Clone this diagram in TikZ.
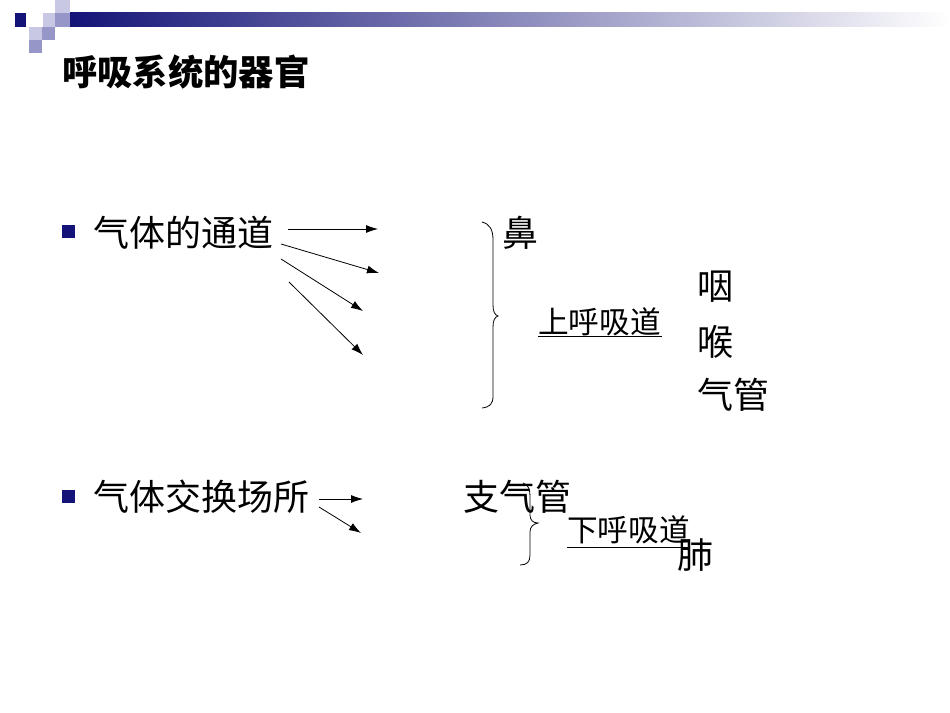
\documentclass[tikz,border=0pt]{standalone}
\usepackage{fontspec}
\usetikzlibrary{arrows.meta}
\newfontfamily\cjk{Noto Sans CJK SC}
\definecolor{navy}{RGB}{20,20,120}
\definecolor{lav}{RGB}{200,200,228}
\definecolor{mid}{RGB}{150,150,200}
\begin{document}
\begin{tikzpicture}[x=0.75pt,y=-0.75pt,
  txt/.style={anchor=west,inner sep=0pt,font=\cjk\fontsize{27}{29}\selectfont},
  small/.style={anchor=west,inner sep=0pt,font=\cjk\fontsize{23}{25}\selectfont},
  arr/.style={-{Latex[length=9pt,width=6pt]},line width=0.6pt},
  brace/.style={line width=0.6pt}]
\useasboundingbox (0,0) rectangle (950,713);
\fill[white] (0,0) rectangle (950,713);
% header
\shade[left color=navy,right color=white] (70,13) rectangle (950,27);
\fill[lav] (55,0) rectangle (70,13);
\fill[navy] (15,13) rectangle (26,27);
\fill[lav] (43,13) rectangle (55,27);
\fill[mid] (55,13) rectangle (70,27);
\fill[lav] (29,27) rectangle (42,40);
\fill[mid] (42,27) rectangle (55,40);
\fill[mid] (29,40) rectangle (42,53);
\node[anchor=west,inner sep=0pt,font=\cjk\bfseries\fontsize{26.5}{28}\selectfont] (title) at (62,72) {呼吸系统的器官};
% bullets
\fill[navy] (62,225) rectangle (75,238);
\fill[navy] (62,490) rectangle (75,503);
\node[txt] (t1) at (93,233) {气体的通道};
\node[txt] (t2) at (93,497) {气体交换场所};
% arrows
\coordinate (a1) at (288,229); \coordinate (b1) at (378,229);
\coordinate (a2) at (281,244); \coordinate (b2) at (379,273);
\coordinate (a3) at (281,259); \coordinate (b3) at (363,311);
\coordinate (a4) at (289,282); \coordinate (b4) at (363,355);
\coordinate (a5) at (319,499); \coordinate (b5) at (363,499);
\coordinate (a6) at (319,507); \coordinate (b6) at (361,533);
\foreach \i in {1,...,6} \draw[arr] (a\i) -- (b\i);
% upper brace
\draw[brace] (482,222) .. controls (490,224) and (493,230) .. (493,240) -- (493,305)
  .. controls (493,312) and (495,315) .. (498,316)
  .. controls (495,317) and (493,320) .. (493,327) -- (493,396)
  .. controls (493,404) and (490,407) .. (482,408);
\node[txt] (bi) at (502,233) {鼻};
\node[small] (sh) at (538,322) {上呼吸道};
\draw[line width=0.6pt] (538,336) -- (662,336);
\node[txt] (yan) at (697,287) {咽};
\node[txt] (hou) at (697,342) {喉};
\node[txt] (qg) at (697,395) {气管};
% lower
\node[txt] (zqg) at (463,497) {支气管};
\draw[brace] (523,483) .. controls (529,485) and (530,490) .. (530,497) -- (530,515)
  .. controls (530,520) and (533,523) .. (538,523)
  .. controls (533,524) and (530,527) .. (530,532) -- (530,555)
  .. controls (530,562) and (527,565) .. (520,565);
\node[small] (xh) at (567,530) {下呼吸道};
\draw[line width=0.6pt] (567,547) -- (690,547);
\node[txt] (fei) at (677,555) {肺};
\end{tikzpicture}
\end{document}
